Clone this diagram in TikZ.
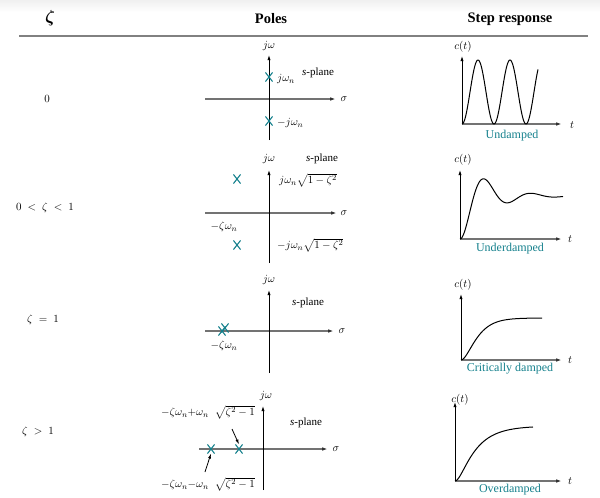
\documentclass[tikz,border=0pt]{standalone}
\usepackage{amsmath}
\usepackage{fontspec}
\setmainfont{Liberation Serif}
\usetikzlibrary{arrows.meta,shapes.misc}
\definecolor{tealc}{RGB}{20,128,140}
\definecolor{axgray}{RGB}{115,115,115}
\begin{document}
\begin{tikzpicture}[x=1pt,y=-1pt,
  font=\fontsize{11}{13}\selectfont,
  vax/.style={draw=black, line width=0.8pt, -{Latex[length=5pt,width=3.2pt]}},
  hax/.style={draw=axgray, line width=1.7pt, -{Latex[length=6pt,width=3.6pt,color=black!80]}},
  pole/.style={cross out, draw=tealc, line width=1.1pt, minimum width=6pt, minimum height=8pt, inner sep=0pt},
  lbl/.style={inner sep=0pt},
  captxt/.style={inner sep=0pt, text=tealc, font=\fontsize{12}{14}\selectfont},
  hdr/.style={inner sep=0pt, font=\fontsize{14.5}{17}\selectfont\bfseries},
  curve/.style={draw=black, line width=1pt, line join=round}]
\useasboundingbox (0,0) rectangle (600,498);
\shade[top color=gray!12, bottom color=white] (0,0) rectangle (600,12);

% header
\node[hdr, font=\fontsize{17}{19}\selectfont\boldmath] (hz) at (50,18) {$\zeta$};
\node[hdr] (hp) at (271,19) {Poles};
\node[hdr] (hs) at (510,19) {Step response};
\coordinate (hl1) at (19,36);
\coordinate (hl2) at (588,36);
\draw[draw=axgray!90, line width=1.8pt] (hl1) -- (hl2);

% row labels
\node[lbl] (z1) at (47,99) {$0$};
\node[lbl] (z2) at (45,208) {$0\;<\;\zeta\;<\;1$};
\node[lbl] (z3) at (43,320) {$\zeta\;=\;1$};
\node[lbl] (z4) at (38,432) {$\zeta\;>\;1$};

% ---------- row 1 poles
\coordinate (a1l) at (205,99); \coordinate (a1r) at (336,99);
\coordinate (a1b) at (269,140); \coordinate (a1t) at (269,55);
\draw[hax] (a1l) -- (a1r);
\draw[vax] (a1b) -- (a1t);
\node[lbl] (jw1) at (269,46) {$j\omega$};
\node[lbl] (sg1) at (344,99) {$\sigma$};
\node[lbl] (sp1) at (318,73) {\textit{s}-plane};
\node[pole] (p1a) at (269,77) {};
\node[pole] (p1b) at (269,121) {};
\node[lbl, anchor=west] (l1a) at (277,79) {$j\omega_n$};
\node[lbl, anchor=west] (l1b) at (277,123) {$-j\omega_n$};

% ---------- row 2 poles
\coordinate (a2l) at (205,213); \coordinate (a2r) at (337,213);
\coordinate (a2b) at (269,263); \coordinate (a2t) at (269,170);
\draw[hax] (a2l) -- (a2r);
\draw[vax] (a2b) -- (a2t);
\node[lbl] (jw2) at (269,159) {$j\omega$};
\node[lbl] (sg2) at (344,213) {$\sigma$};
\node[lbl] (sp2) at (322,159) {\textit{s}-plane};
\node[pole] (p2a) at (237,179) {};
\node[pole] (p2b) at (237,245) {};
\node[lbl, anchor=west] (l2a) at (279,180) {$j\omega_n\sqrt{1-\zeta^2}$};
\node[lbl, anchor=west] (l2b) at (277,245) {$-j\omega_n\sqrt{1-\zeta^2}$};
\node[lbl] (l2c) at (224,227) {$-\zeta\omega_n$};

% ---------- row 3 poles
\coordinate (a3l) at (205,331); \coordinate (a3r) at (334,331);
\coordinate (a3b) at (269,373); \coordinate (a3t) at (269,290);
\draw[hax] (a3l) -- (a3r);
\draw[vax] (a3b) -- (a3t);
\node[lbl] (jw3) at (269,280) {$j\omega$};
\node[lbl] (sg3) at (342,331) {$\sigma$};
\node[lbl] (sp3) at (308,303) {\textit{s}-plane};
\node[pole] (p3a) at (222,331) {};
\node[pole] (p3b) at (225,328) {};
\node[lbl] (l3c) at (224,346) {$-\zeta\omega_n$};

% ---------- row 4 poles
\coordinate (a4l) at (199,449); \coordinate (a4r) at (328,449);
\coordinate (a4b) at (263,490); \coordinate (a4t) at (263,406);
\draw[hax] (a4l) -- (a4r);
\draw[vax] (a4b) -- (a4t);
\node[lbl] (jw4) at (266,396) {$j\omega$};
\node[lbl] (sg4) at (336,449) {$\sigma$};
\node[lbl] (sp4) at (306,423) {\textit{s}-plane};
\node[pole] (p4a) at (211,449) {};
\node[pole] (p4b) at (239,449) {};
\node[lbl] (l4a) at (208,412) {$-\zeta\omega_n{+}\omega_n\;\;\sqrt{\zeta^2-1}$};
\node[lbl] (l4b) at (208,484) {$-\zeta\omega_n{-}\omega_n\;\;\sqrt{\zeta^2-1}$};
\coordinate (q4a) at (232,429);
\coordinate (q4b) at (205,472);
\draw[line width=0.8pt, -{Latex[length=5pt,width=3pt]}] (q4a) -- (p4b.north);
\draw[line width=0.8pt, -{Latex[length=5pt,width=3pt]}] (q4b) -- (p4a.south);

% ---------- step responses
% row 1
\coordinate (o1) at (462,124); \coordinate (x1) at (562,124); \coordinate (y1) at (462,56);
\draw[hax] (o1) -- (x1);
\draw[vax] (o1) -- (y1);
\node[lbl] (c1) at (463,47) {$c(t)$};
\node[lbl] (t1) at (572,125) {$t$};
\node[captxt] (k1) at (512,136) {Undamped};
\begin{scope}[shift={(o1)}]
\draw[curve] plot[domain=0:76, samples=150, smooth] (\x,{-32*(1-cos(\x*11.25))});
\end{scope}

% row 2
\coordinate (o2) at (460,239); \coordinate (x2) at (562,239); \coordinate (y2) at (460,170);
\draw[hax] (o2) -- (x2);
\draw[vax] (o2) -- (y2);
\node[lbl] (c2) at (463,160) {$c(t)$};
\node[lbl] (t2) at (570,239) {$t$};
\node[captxt] (k2) at (510,249) {Underdamped};
\begin{scope}[shift={(o2)}]
\draw[curve] plot[domain=0:103, samples=150, smooth] (\x,{-43*(1-exp(-0.039*\x)*(cos(7.66*\x)+0.292*sin(7.66*\x)))});
\end{scope}

% row 3
\coordinate (o3) at (461,360); \coordinate (x3) at (562,360); \coordinate (y3) at (461,294);
\draw[hax] (o3) -- (x3);
\draw[vax] (o3) -- (y3);
\node[lbl] (c3) at (463,285) {$c(t)$};
\node[lbl] (t3) at (570,360) {$t$};
\node[captxt] (k3) at (510,369) {Critically damped};
\begin{scope}[shift={(o3)}]
\draw[curve] plot[domain=0:81, samples=120, smooth] (\x,{-42*(1-(1+0.11*\x)*exp(-0.11*\x))});
\end{scope}

% row 4
\coordinate (o4) at (455,481); \coordinate (x4) at (562,481); \coordinate (y4) at (455,402);
\draw[hax] (o4) -- (x4);
\draw[vax] (o4) -- (y4);
\node[lbl] (c4) at (460,400) {$c(t)$};
\node[lbl] (t4) at (570,481) {$t$};
\node[captxt] (k4) at (510,490) {Overdamped};
\begin{scope}[shift={(o4)}]
\draw[curve] plot[domain=0:78, samples=120, smooth] (\x,{-55*(1-(0.2*exp(-0.0556*\x)-0.0556*exp(-0.2*\x))/0.1444)});
\end{scope}
\end{tikzpicture}
\end{document}
